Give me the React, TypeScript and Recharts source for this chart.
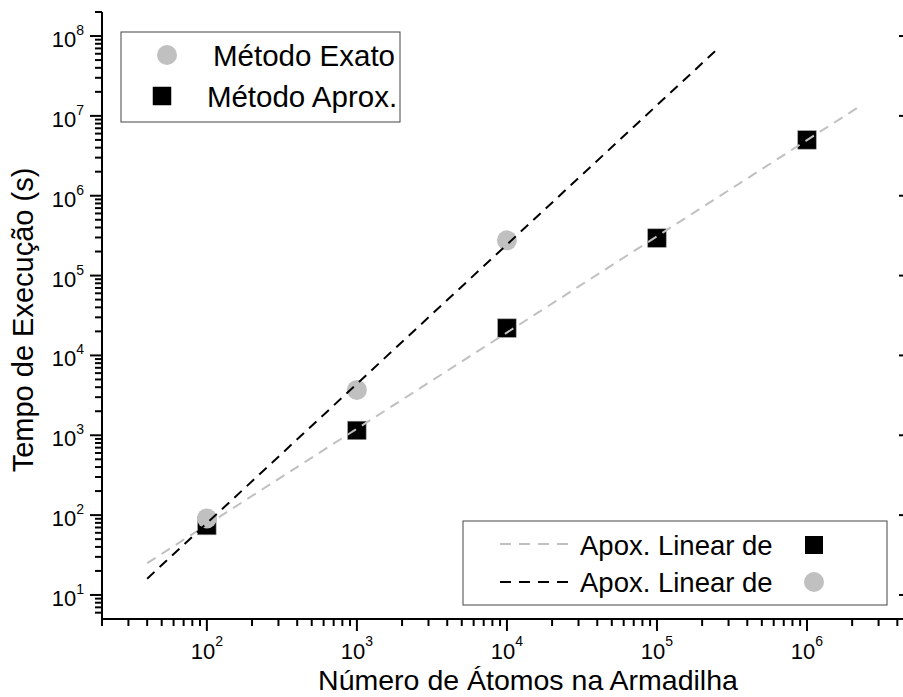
import React from 'react';
import { ScatterChart, Scatter, XAxis, YAxis } from 'recharts';

// Number of trapped atoms (x) and execution times in seconds (y)
const atomCounts = [100, 1000, 1e4, 1e5, 1e6];
const exatoTimes = [91, 3700, 2.76e5];
const aproxTimes = [74, 1150, 2.2e4, 2.95e5, 5.0e6];

// Linear fits in log-log space (end points of each dashed line)
const fitAproxX = [40, 2.15e6];
const fitAproxY = [25, 1.25e7];
const fitExatoX = [40, 2.45e5];
const fitExatoY = [16, 6.5e7];

// Axis decades
const xDecades = [100, 1000, 1e4, 1e5, 1e6];
const yDecades = [10, 100, 1000, 1e4, 1e5, 1e6, 1e7, 1e8];
const xDomain = [20, 4.5e6];
const yDomain = [5, 2e8];

const minorMantissas = [2, 3, 4, 5, 6, 7, 8, 9];
const xTicks: number[] = [];
[10, 100, 1000, 1e4, 1e5, 1e6].forEach((d) => {
  minorMantissas.forEach((m) => {
    const v = m * d;
    if (v >= xDomain[0] && v <= xDomain[1]) xTicks.push(v);
  });
  if (d >= 100) xTicks.push(d);
});
xTicks.sort((a, b) => a - b);

const yTicks: number[] = [];
[1, 10, 100, 1000, 1e4, 1e5, 1e6, 1e7, 1e8].forEach((d) => {
  if (d >= 10) yTicks.push(d);
  minorMantissas.forEach((m) => {
    const v = m * d;
    if (v >= 6 && v <= yDomain[1]) yTicks.push(v);
  });
});
yTicks.sort((a, b) => a - b);

const FONT = '"Liberation Sans", Arial, Helvetica, sans-serif';
const GREY = '#c0c0c0';

const exatoData = exatoTimes.map((y, i) => ({ x: atomCounts[i], y }));
const aproxData = aproxTimes.map((y, i) => ({ x: atomCounts[i], y }));
const fitAproxData = fitAproxX.map((x, i) => ({ x, y: fitAproxY[i] }));
const fitExatoData = fitExatoX.map((x, i) => ({ x, y: fitExatoY[i] }));

const isDecade = (v: number) => Math.abs(Math.log10(v) - Math.round(Math.log10(v))) < 1e-9;
const expOf = (v: number) => Math.round(Math.log10(v));

const BottomTick = (props: any) => {
  const { x, y, payload } = props;
  const v = payload.value;
  const major = isDecade(v);
  return (
    <g>
      <line x1={x} x2={x} y1={y} y2={y + (major ? 12 : 7)} stroke="#000" strokeWidth={2} />
      {major && (
        <text x={x} y={y + 40} textAnchor="middle" fontFamily={FONT} fontSize={22} fill="#000">
          10
          <tspan dy={-13} fontSize={14}>{expOf(v)}</tspan>
        </text>
      )}
    </g>
  );
};

const LeftTick = (props: any) => {
  const { x, y, payload } = props;
  const v = payload.value;
  const major = isDecade(v);
  return (
    <g>
      <line x1={x} x2={x - (major ? 12 : 7)} y1={y} y2={y} stroke="#000" strokeWidth={2} />
      {major && (
        <text x={x - 18} y={y + 11} textAnchor="end" fontFamily={FONT} fontSize={22} fill="#000">
          10
          <tspan dy={-12} fontSize={14}>{expOf(v)}</tspan>
        </text>
      )}
    </g>
  );
};

const TopTick = (props: any) => {
  const { x, y } = props;
  return <line x1={x} x2={x} y1={y} y2={y + 11} stroke="#000" strokeWidth={2} />;
};

const RightTick = (props: any) => {
  const { x, y } = props;
  return <line x1={x} x2={x - 6} y1={y} y2={y} stroke="#000" strokeWidth={2} />;
};

const CircleMark = (props: any) => <circle cx={props.cx} cy={props.cy} r={10} fill={GREY} />;
const SquareMark = (props: any) => (
  <rect x={props.cx - 9.25} y={props.cy - 9.25} width={18.5} height={18.5} fill="#000" stroke="#9a9a9a" strokeWidth={0.6} />
);
const NoMark = () => <g />;

export default function App() {
  return (
    <div style={{ position: 'absolute', left: 0, top: 0, width: 903, height: 697, overflow: 'hidden', background: '#fff' }}>
      <ScatterChart width={920} height={697} margin={{ top: 12, right: 0, bottom: 0, left: 0 }}>
        <XAxis
          xAxisId="bottom"
          dataKey="x"
          type="number"
          scale="log"
          domain={xDomain}
          allowDataOverflow
          ticks={xTicks}
          interval={0}
          tickSize={0}
          tickMargin={0}
          tick={<BottomTick />}
          axisLine={{ stroke: '#000', strokeWidth: 2 }}
          height={78}
          orientation="bottom"
        />
        <XAxis
          xAxisId="top"
          dataKey="x"
          type="number"
          scale="log"
          domain={xDomain}
          allowDataOverflow
          ticks={xDecades}
          interval={0}
          tickSize={0}
          tickMargin={0}
          tick={<TopTick />}
          axisLine={{ stroke: '#000', strokeWidth: 2 }}
          height={0}
          orientation="top"
        />
        <YAxis
          yAxisId="left"
          dataKey="y"
          type="number"
          scale="log"
          domain={yDomain}
          allowDataOverflow
          ticks={yTicks}
          interval={0}
          tickSize={0}
          tickMargin={0}
          tick={<LeftTick />}
          axisLine={{ stroke: '#000', strokeWidth: 2 }}
          width={102}
          orientation="left"
        />
        <YAxis
          yAxisId="right"
          dataKey="y"
          type="number"
          scale="log"
          domain={yDomain}
          allowDataOverflow
          ticks={yDecades}
          interval={0}
          tickSize={0}
          tickMargin={0}
          tick={<RightTick />}
          axisLine={false}
          width={15}
          orientation="right"
        />
        <Scatter
          name="Método Aprox."
          data={aproxData}
          xAxisId="bottom"
          yAxisId="left"
          shape={<SquareMark />}
          isAnimationActive={false}
        />
        <Scatter
          name="Método Exato"
          data={exatoData}
          xAxisId="bottom"
          yAxisId="left"
          shape={<CircleMark />}
          isAnimationActive={false}
        />
        <Scatter
          name="Apox. Linear de Método Aprox."
          data={fitAproxData}
          xAxisId="bottom"
          yAxisId="left"
          line={{ stroke: GREY, strokeWidth: 2, strokeDasharray: '10 7' }}
          lineType="joint"
          shape={<NoMark />}
          isAnimationActive={false}
        />
        <Scatter
          name="Apox. Linear de Método Exato"
          data={fitExatoData}
          xAxisId="bottom"
          yAxisId="left"
          line={{ stroke: '#000', strokeWidth: 2, strokeDasharray: '10 7' }}
          lineType="joint"
          shape={<NoMark />}
          isAnimationActive={false}
        />
      </ScatterChart>

      {/* Axis titles and the two legend boxes */}
      <svg width={903} height={697} style={{ position: 'absolute', left: 0, top: 0, pointerEvents: 'none' }}>
        <text x={528} y={690} textAnchor="middle" fontFamily={FONT} fontSize={28.5} fill="#000">
          Número de Átomos na Armadilha
        </text>
        <text
          transform="translate(33,320) rotate(-90)"
          textAnchor="middle"
          fontFamily={FONT}
          fontSize={29}
          fill="#000"
        >
          Tempo de Execução (s)
        </text>

        <rect x={121} y={32} width={279} height={90} fill="#fff" stroke="#444" strokeWidth={1} />
        <circle cx={167} cy={55} r={10} fill={GREY} />
        <rect x={152.75} y={86.75} width={18.5} height={18.5} fill="#000" />
        <text x={304} y={55} dominantBaseline="central" textAnchor="middle" fontFamily={FONT} fontSize={29.5} fill="#000">
          Método Exato
        </text>
        <text x={302} y={96} dominantBaseline="central" textAnchor="middle" fontFamily={FONT} fontSize={29.5} fill="#000">
          Método Aprox.
        </text>

        <rect x={463} y={521} width={424} height={84} fill="#fff" stroke="#444" strokeWidth={1} />
        <line x1={500} x2={568} y1={544} y2={544} stroke={GREY} strokeWidth={2} strokeDasharray="11 8" />
        <line x1={500} x2={568} y1={582} y2={582} stroke="#000" strokeWidth={2} strokeDasharray="11 8" />
        <text x={580} y={545} dominantBaseline="central" fontFamily={FONT} fontSize={27.5} fill="#000">
          Apox. Linear de
        </text>
        <text x={580} y={582} dominantBaseline="central" fontFamily={FONT} fontSize={27.5} fill="#000">
          Apox. Linear de
        </text>
        <rect x={805} y={536} width={18} height={18} fill="#000" />
        <circle cx={814} cy={582} r={10} fill={GREY} />
      </svg>
    </div>
  );
}
